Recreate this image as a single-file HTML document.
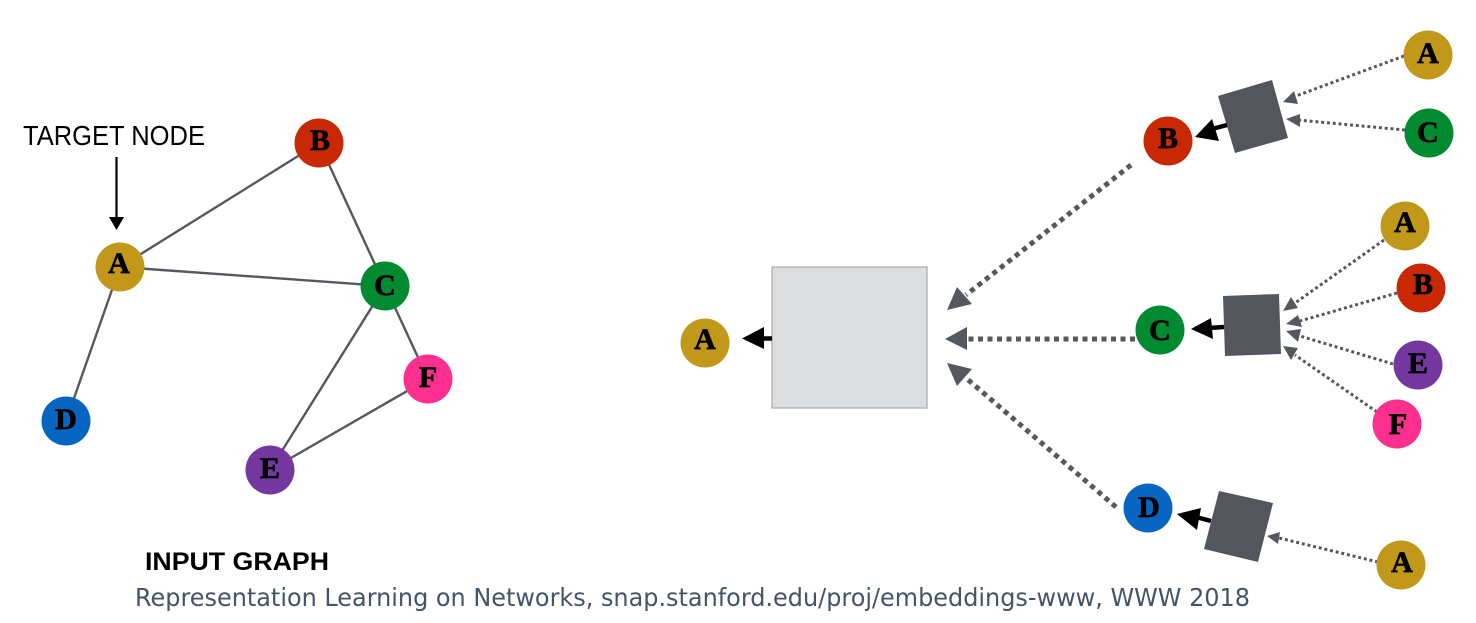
<!DOCTYPE html>
<html lang="en">
<head>
<meta charset="utf-8">
<title>Input graph and computation graph</title>
<style>
html,body{margin:0;padding:0;background:#fff;width:1476px;height:623px;overflow:hidden}
svg{display:block}
.lab{font-family:"Liberation Serif",serif;font-weight:bold;font-size:30px;fill:#000;text-anchor:middle;stroke:#000;stroke-width:.7px}
.edge{stroke:#55595f;stroke-width:2.4;fill:none}
.thin{stroke:#55595f;stroke-width:3;stroke-dasharray:3 2.8;fill:none}
.thick{stroke:#55595f;stroke-width:5;stroke-dasharray:5 4.500;fill:none}
.blk{stroke:#000;stroke-width:4.500;fill:none}
</style>
</head>
<body>
<svg width="1476" height="623" viewBox="0 0 1476 623" xmlns="http://www.w3.org/2000/svg">
<rect width="1476" height="623" fill="#fff"/>

<g>
<line class="edge" x1="120" y1="267" x2="319" y2="143"/>
<line class="edge" x1="120" y1="267" x2="385" y2="286"/>
<line class="edge" x1="120" y1="267" x2="66" y2="421"/>
<line class="edge" x1="319" y1="143" x2="385" y2="286"/>
<line class="edge" x1="385" y1="286" x2="270" y2="470"/>
<line class="edge" x1="385" y1="286" x2="428" y2="379"/>
<line class="edge" x1="270" y1="470" x2="428" y2="379"/>
</g>

<text x="23" y="145" font-family="'Liberation Sans',sans-serif" font-size="27.500" fill="#000" textLength="182" lengthAdjust="spacingAndGlyphs">TARGET NODE</text>
<g>
<line x1="116.500" y1="157" x2="116.500" y2="218" stroke="#000" stroke-width="2.200"/>
<polygon points="109,217 124,217 116.500,230" fill="#000"/>
</g>

<g>
<g><circle cx="120" cy="267" r="24.500" fill="#c2981a"/><text class="lab" x="119" y="273">A</text></g>
<g><circle cx="319" cy="143" r="24.500" fill="#c92805"/><text class="lab" x="320" y="150">B</text></g>
<g><circle cx="385" cy="286" r="24.500" fill="#028a30"/><text class="lab" x="385" y="295">C</text></g>
<g><circle cx="66" cy="421" r="24.500" fill="#0565c0"/><text class="lab" x="66" y="429">D</text></g>
<g><circle cx="270" cy="470" r="24.500" fill="#7437a0"/><text class="lab" x="270" y="478">E</text></g>
<g><circle cx="428" cy="379" r="24.500" fill="#fd2f8f"/><text class="lab" x="428" y="387">F</text></g>
</g>

<text x="145" y="570" font-family="'Liberation Sans',sans-serif" font-weight="bold" font-size="25" fill="#000" textLength="184" lengthAdjust="spacingAndGlyphs">INPUT GRAPH</text>
<text x="135" y="606" font-family="'DejaVu Sans',sans-serif" font-size="25" fill="#44546a" textLength="1115" lengthAdjust="spacingAndGlyphs">Representation Learning on Networks, snap.stanford.edu/proj/embeddings-www, WWW 2018</text>

<rect x="772" y="267" width="155" height="141" fill="#dcddde" stroke="#a8aaad" stroke-width="1.200"/>
<g>
<line class="blk" x1="772" y1="338.500" x2="760" y2="338.500"/>
<polygon points="742,338.500 764,327 764,349" fill="#000"/>
</g>
<g><circle cx="705" cy="343" r="24.500" fill="#c2981a"/><text class="lab" x="705" y="349">A</text></g>

<g>
<line class="thick" x1="1131" y1="165" x2="966" y2="295"/>
<polygon points="947,310 957,287 972,304" fill="#55595f"/>
<line class="thick" x1="1135" y1="339" x2="966" y2="339"/>
<polygon points="945,339 967,327 967,350" fill="#55595f"/>
<line class="thick" x1="1116" y1="507" x2="966" y2="378"/>
<polygon points="947,363 972,369 957,386" fill="#55595f"/>
</g>

<polygon points="1218,96 1272,80 1288,138 1235,153" fill="#53575d"/>
<polygon points="1223,296 1279,294 1281,354 1225,356" fill="#53575d"/>
<polygon points="1219,491 1273,503 1258,562 1204,549" fill="#53575d"/>

<g>
<line class="blk" x1="1227" y1="125" x2="1212" y2="129"/>
<polygon points="1195,137 1212,119 1219,141" fill="#000"/>
<line class="blk" x1="1224" y1="327" x2="1208" y2="328"/>
<polygon points="1191,329 1211,318 1213,339" fill="#000"/>
<line class="blk" x1="1211" y1="521" x2="1196" y2="517"/>
<polygon points="1177,514 1201,508 1197,530" fill="#000"/>
</g>

<g>
<line class="thin" x1="1404" y1="56" x2="1296" y2="96"/>
<polygon points="1283,102 1294,91 1298,104" fill="#55595f"/>
<line class="thin" x1="1405" y1="130" x2="1298" y2="120"/>
<polygon points="1286,119 1300,114 1300,127" fill="#55595f"/>
<line class="thin" x1="1384" y1="240" x2="1295" y2="303"/>
<polygon points="1283,311 1291,297 1298,308" fill="#55595f"/>
<line class="thin" x1="1397" y1="293" x2="1300" y2="321"/>
<polygon points="1286,324 1298,315 1302,327" fill="#55595f"/>
<line class="thin" x1="1393" y1="364" x2="1300" y2="336"/>
<polygon points="1286,331 1301,329 1298,342" fill="#55595f"/>
<line class="thin" x1="1377" y1="412" x2="1295" y2="355"/>
<polygon points="1283,346 1298,348 1291,360" fill="#55595f"/>
<line class="thin" x1="1378" y1="562" x2="1279" y2="538"/>
<polygon points="1267,536 1280,532 1278,544" fill="#55595f"/>
</g>

<g>
<g><circle cx="1168" cy="141" r="24.500" fill="#c92805"/><text class="lab" x="1168" y="148">B</text></g>
<g><circle cx="1160" cy="330" r="24.500" fill="#028a30"/><text class="lab" x="1160" y="340">C</text></g>
<g><circle cx="1148" cy="508" r="24.500" fill="#0565c0"/><text class="lab" x="1149" y="517">D</text></g>
<g><circle cx="1428" cy="55" r="24.500" fill="#c2981a"/><text class="lab" x="1428" y="63">A</text></g>
<g><circle cx="1429" cy="133" r="24.500" fill="#028a30"/><text class="lab" x="1428" y="142">C</text></g>
<g><circle cx="1405" cy="226" r="24.500" fill="#c2981a"/><text class="lab" x="1405" y="232">A</text></g>
<g><circle cx="1421" cy="288" r="24.500" fill="#c92805"/><text class="lab" x="1423" y="294">B</text></g>
<g><circle cx="1418" cy="365" r="24.500" fill="#7437a0"/><text class="lab" x="1418" y="373">E</text></g>
<g><circle cx="1397" cy="424" r="24.500" fill="#fd2f8f"/><text class="lab" x="1398" y="434">F</text></g>
<g><circle cx="1401" cy="565" r="24.500" fill="#c2981a"/><text class="lab" x="1402" y="572">A</text></g>
</g>
</svg>
</body>
</html>
